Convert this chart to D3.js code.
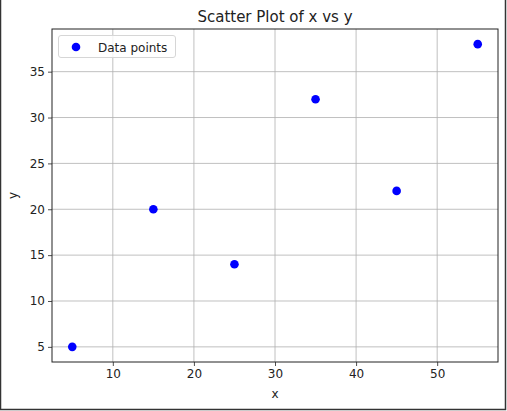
<!DOCTYPE html>
<html><head><meta charset="utf-8">
<script src="https://cdn.jsdelivr.net/npm/d3@7"></script>
<style>body{margin:0;background:#fff}svg{display:block;font-family:"DejaVu Sans",sans-serif}</style>
</head><body>
<script>
const xValues = [5, 15, 25, 35, 45, 55];
const yValues = [5, 20, 14, 32, 22, 38];
const xTicks = [10, 20, 30, 40, 50];
const yTicks = [5, 10, 15, 20, 25, 30, 35];
const titleText = "Scatter Plot of x vs y";
const legendLabel = "Data points";

const W = 507, H = 411;
const m = {left: 52, right: 498, top: 29, bottom: 362};
const svg = d3.select("body").append("svg").attr("width", W).attr("height", H);

const x = d3.scaleLinear().domain([2.5, 57.5]).range([m.left, m.right]);
const y = d3.scaleLinear().domain([3.35, 39.65]).range([m.bottom, m.top]);

// window frame
svg.append("path").attr("d", `M0.5,0 V${H-1.5} H${W-1.5} V0`).attr("fill","none").attr("stroke","#333").attr("stroke-width",1.5);

// grid
svg.append("g").selectAll("line").data(xTicks).join("line")
  .attr("x1", d=>x(d)).attr("x2", d=>x(d)).attr("y1", m.top).attr("y2", m.bottom)
  .attr("stroke","#b0b0b0").attr("stroke-width",0.8);
svg.append("g").selectAll("line").data(yTicks).join("line")
  .attr("y1", d=>y(d)).attr("y2", d=>y(d)).attr("x1", m.left).attr("x2", m.right)
  .attr("stroke","#b0b0b0").attr("stroke-width",0.8);

// axes
const xAxis = d3.axisBottom(x).tickValues(xTicks).tickSize(4).tickPadding(3).tickSizeOuter(0);
const yAxis = d3.axisLeft(y).tickValues(yTicks).tickSize(4).tickPadding(3).tickSizeOuter(0);
const gx = svg.append("g").attr("transform", `translate(0,${m.bottom})`).call(xAxis);
const gy = svg.append("g").attr("transform", `translate(${m.left},0)`).call(yAxis);
[gx, gy].forEach(g => {
  g.select(".domain").remove();
  g.selectAll("text").attr("font-size", 12).attr("font-family", "DejaVu Sans").attr("fill", "#222");
  g.selectAll("line").attr("stroke", "#222").attr("stroke-width", 0.8);
});

// spines
svg.append("rect").attr("x", m.left).attr("y", m.top).attr("width", m.right-m.left).attr("height", m.bottom-m.top)
  .attr("fill","none").attr("stroke","#222").attr("stroke-width",1);

// points
svg.append("g").selectAll("circle").data(xValues.map((v,i)=>[v, yValues[i]])).join("circle")
  .attr("cx", d=>x(d[0])).attr("cy", d=>y(d[1])).attr("r", 4.3).attr("fill", "#0000ff");

// title and labels
svg.append("text").attr("x", (m.left+m.right)/2).attr("y", 22).attr("text-anchor","middle")
  .attr("font-size", 15).attr("fill","#222").text(titleText);
svg.append("text").attr("x", (m.left+m.right)/2).attr("y", 398).attr("text-anchor","middle")
  .attr("font-size", 12).attr("fill","#222").text("x");
svg.append("text").attr("transform", `translate(17,${(m.top+m.bottom)/2}) rotate(-90)`).attr("text-anchor","middle")
  .attr("font-size", 12).attr("fill","#222").text("y");

// legend
const lg = svg.append("g");
lg.append("rect").attr("x", 58.5).attr("y", 35.5).attr("width", 117).attr("height", 22).attr("rx", 2.5)
  .attr("fill","#fff").attr("fill-opacity",0.8).attr("stroke","#d6d6d6").attr("stroke-width",1);
lg.append("circle").attr("cx", 76).attr("cy", 47).attr("r", 4.3).attr("fill","#0000ff");
lg.append("text").attr("x", 98).attr("y", 51.5).attr("font-size", 12).attr("fill","#222").text(legendLabel);
</script>
</body></html>
